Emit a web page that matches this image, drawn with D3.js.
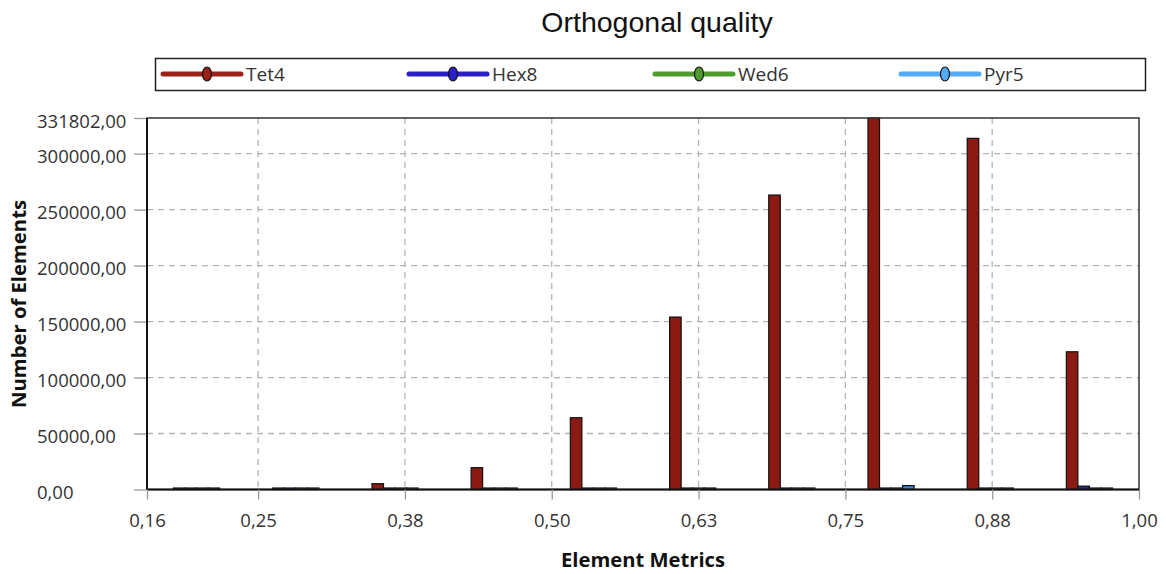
<!DOCTYPE html>
<html><head><meta charset="utf-8">
<script src="https://cdn.jsdelivr.net/npm/d3@7"></script>
<style>
html,body{margin:0;padding:0;background:#fff;}
svg{display:block;}
</style></head>
<body>
<svg id="chart" width="1166" height="574"></svg>
<script>
// ---- data ----
const title = "Orthogonal quality";
const seriesNames = ["Tet4", "Hex8", "Wed6", "Pyr5"];
const binCenters = [0.1976, 0.2821, 0.3666, 0.4510, 0.5355, 0.6200, 0.7044, 0.7889, 0.8734, 0.9578];
const tet4 = [0, 0, 5200, 19500, 64100, 154000, 263000, 331802, 313600, 123000];
const hex8 = [0, 0, 0, 0, 0, 0, 0, 0, 0, 3000];
const wed6 = [0, 0, 0, 0, 0, 0, 0, 0, 0, 0];
const pyr5 = [0, 0, 0, 0, 0, 0, 0, 3500, 0, 0];
const xTicks = [0.1554, 0.25, 0.375, 0.5, 0.625, 0.75, 0.875, 1.0];
const xTickLabels = ["0,16", "0,25", "0,38", "0,50", "0,63", "0,75", "0,88", "1,00"];
const yTicks = [0, 50000, 100000, 150000, 200000, 250000, 300000, 331802];
const yTickLabels = ["0,00", "50000,00", "100000,00", "150000,00", "200000,00", "250000,00", "300000,00", "331802,00"];
const xLabel = "Element Metrics";
const yLabel = "Number of Elements";

const seriesValues = [tet4, hex8, wed6, pyr5];
const barColors = ["#8b1a12", "#23239c", "#4a9a2b", "#3c86d6"];
const legendColors = ["#9b2018", "#2a1fc9", "#4f9c2e", "#55aaf5"];

// ---- layout ----
const svg = d3.select("#chart");
const L = 147, R = 1139, T = 118, B = 489.5;
const font = "'Open Sans', 'Segoe UI', sans-serif";

const x = d3.scaleLinear().domain([0.1554, 1.0]).range([L, R]);
const y = d3.scaleLinear().domain([0, 331802]).range([B, T]);

// title
svg.append("text").attr("x", 657).attr("y", 32).attr("text-anchor", "middle")
  .attr("font-family", "'Liberation Sans', Arial, sans-serif").attr("font-size", 28.5)
  .attr("fill", "#111").text(title);

// legend
const lg = svg.append("g");
lg.append("rect").attr("x", 155.5).attr("y", 58.5).attr("width", 990).attr("height", 32)
  .attr("fill", "#fff").attr("stroke", "#222").attr("stroke-width", 1.5);
const legendX = d3.scalePoint().domain(seriesNames).range([163, 901]);
seriesNames.forEach((s, i) => {
  const x0 = legendX(s);
  const g = lg.append("g");
  g.append("line").attr("x1", x0).attr("x2", x0 + 78).attr("y1", 74).attr("y2", 74)
    .attr("stroke", legendColors[i]).attr("stroke-width", 5).attr("stroke-linecap", "round");
  g.append("ellipse").attr("cx", x0 + 44).attr("cy", 74).attr("rx", 4.5).attr("ry", 7)
    .attr("fill", legendColors[i]).attr("stroke", "#111").attr("stroke-width", 1.2);
  g.append("text").attr("x", x0 + 83).attr("y", 81).attr("font-family", font)
    .attr("font-size", 19).attr("fill", "#333").text(s);
});

// gridlines
const grid = svg.append("g");
grid.selectAll("line.h").data(yTicks.slice(1, -1)).enter().append("line")
  .attr("x1", L).attr("x2", R).attr("y1", d => y(d)).attr("y2", d => y(d))
  .attr("stroke", "#b4b4b4").attr("stroke-width", 1.3).attr("stroke-dasharray", "6,5");
grid.selectAll("line.v").data(xTicks.slice(1, -1)).enter().append("line")
  .attr("x1", d => x(d)).attr("x2", d => x(d)).attr("y1", T).attr("y2", B)
  .attr("stroke", "#b4b4b4").attr("stroke-width", 1.3).attr("stroke-dasharray", "6,5");

// bars
const binPx = x(binCenters[1]) - x(binCenters[0]);
const groupW = binPx * 0.465;
const inner = d3.scaleBand().domain(seriesNames).range([-groupW / 2, groupW / 2]).padding(0);
const bars = svg.append("g");
seriesNames.forEach((s, si) => {
  bars.selectAll("rect.s" + si).data(seriesValues[si]).enter().append("rect")
    .attr("x", (d, i) => x(binCenters[i]) + inner(s))
    .attr("width", inner.bandwidth())
    .attr("y", d => Math.min(y(d), B - 1.5))
    .attr("height", d => Math.max(B - y(d), 1.5))
    .attr("fill", barColors[si]).attr("stroke", "#111").attr("stroke-width", 1.2);
});

// frame
svg.append("rect").attr("x", L).attr("y", T).attr("width", R - L).attr("height", B - T)
  .attr("fill", "none").attr("stroke", "#333").attr("stroke-width", 1.5);
svg.append("line").attr("x1", L).attr("x2", L).attr("y1", T).attr("y2", B)
  .attr("stroke", "#111").attr("stroke-width", 2);
svg.append("line").attr("x1", L).attr("x2", R).attr("y1", B).attr("y2", B)
  .attr("stroke", "#111").attr("stroke-width", 2);

// y axis
const yAxis = d3.axisLeft(y).tickValues(yTicks).tickFormat((d, i) => yTickLabels[i]).tickSize(12).tickPadding(0);
const ya = svg.append("g").attr("transform", `translate(${L - 1},0)`).call(yAxis);
ya.select(".domain").remove();
ya.selectAll(".tick line").attr("stroke", "#999").attr("stroke-width", 1.3);
ya.selectAll(".tick text").attr("text-anchor", "start").attr("x", 38 - L).attr("dy", "0.5em")
  .attr("font-family", font).attr("font-size", 18.5).attr("fill", "#333");

// x axis
const xAxis = d3.axisBottom(x).tickValues(xTicks).tickFormat((d, i) => xTickLabels[i]).tickSize(10).tickPadding(14);
const xa = svg.append("g").attr("transform", `translate(0,${B})`).call(xAxis);
xa.select(".domain").remove();
xa.selectAll(".tick line").attr("stroke", "#999").attr("stroke-width", 1.3);
xa.selectAll(".tick text").attr("font-family", font).attr("font-size", 18.5).attr("fill", "#333");

// axis titles
svg.append("text").attr("x", 643).attr("y", 567).attr("text-anchor", "middle")
  .attr("font-family", font).attr("font-weight", "bold").attr("font-size", 19.5)
  .attr("textLength", 164).attr("lengthAdjust", "spacingAndGlyphs")
  .attr("fill", "#111").text(xLabel);
svg.append("text").attr("transform", "translate(26,304) rotate(-90)").attr("text-anchor", "middle")
  .attr("font-family", font).attr("font-weight", "bold").attr("font-size", 19.5)
  .attr("textLength", 208).attr("lengthAdjust", "spacingAndGlyphs")
  .attr("fill", "#111").text(yLabel);
</script>
</body></html>
